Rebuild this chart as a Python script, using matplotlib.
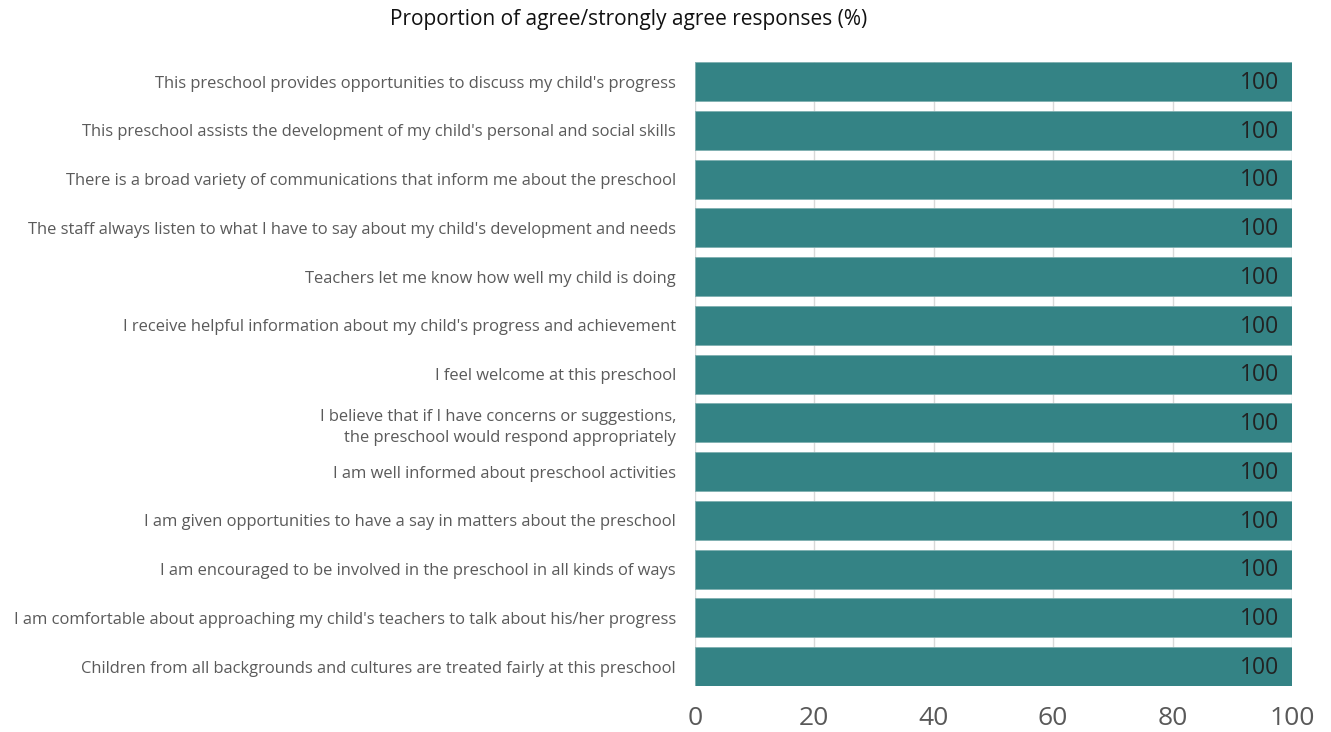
import matplotlib
matplotlib.use("Agg")
import matplotlib.pyplot as plt

categories = [
    "This preschool provides opportunities to discuss my child's progress",
    "This preschool assists the development of my child's personal and social skills",
    "There is a broad variety of communications that inform me about the preschool",
    "The staff always listen to what I have to say about my child's development and needs",
    "Teachers let me know how well my child is doing",
    "I receive helpful information about my child's progress and achievement",
    "I feel welcome at this preschool",
    "I believe that if I have concerns or suggestions,\nthe preschool would respond appropriately",
    "I am well informed about preschool activities",
    "I am given opportunities to have a say in matters about the preschool",
    "I am encouraged to be involved in the preschool in all kinds of ways",
    "I am comfortable about approaching my child's teachers to talk about his/her progress",
    "Children from all backgrounds and cultures are treated fairly at this preschool",
]
values = [100] * 13
xticks = [0, 20, 40, 60, 80, 100]

plt.rcParams['font.family'] = ['Open Sans', 'DejaVu Sans']

fig = plt.figure(figsize=(13.31, 7.32), dpi=100)
ax = fig.add_axes([0.522, 0.0628, 0.4487, 0.8525])

pos = list(range(len(categories)))
ax.barh(pos, values, height=0.8, color='#348385', edgecolor='#7fb0b1', linewidth=0.6, zorder=3)
for p, v in zip(pos, values):
    ax.text(v - 2.2, p + 0.03, f"{v:g}", ha='right', va='center', fontsize=16.5, color='#222222', zorder=4)

ax.set_xlim(0, 100)
ax.set_ylim(12.4, -0.4)
ax.set_yticks(pos)
ax.set_yticklabels(categories, fontsize=11.85, color='#5a5a5a', linespacing=1.4)
ax.set_xticks(xticks)
ax.set_xticklabels([str(t) for t in xticks], fontsize=19, color='#595959')
ax.tick_params(axis='both', length=0)
ax.tick_params(axis='y', pad=13.5)
ax.tick_params(axis='x', pad=14.5)
ax.grid(axis='x', color='#d9d9d9', linewidth=1, zorder=0)
for s in ax.spines.values():
    s.set_visible(False)

fig.text(0.4726, 0.974, "Proportion of agree/strongly agree responses (%)", ha='center', va='center',
         fontsize=15, color='#111111')

fig.savefig("out.png", dpi=100)
